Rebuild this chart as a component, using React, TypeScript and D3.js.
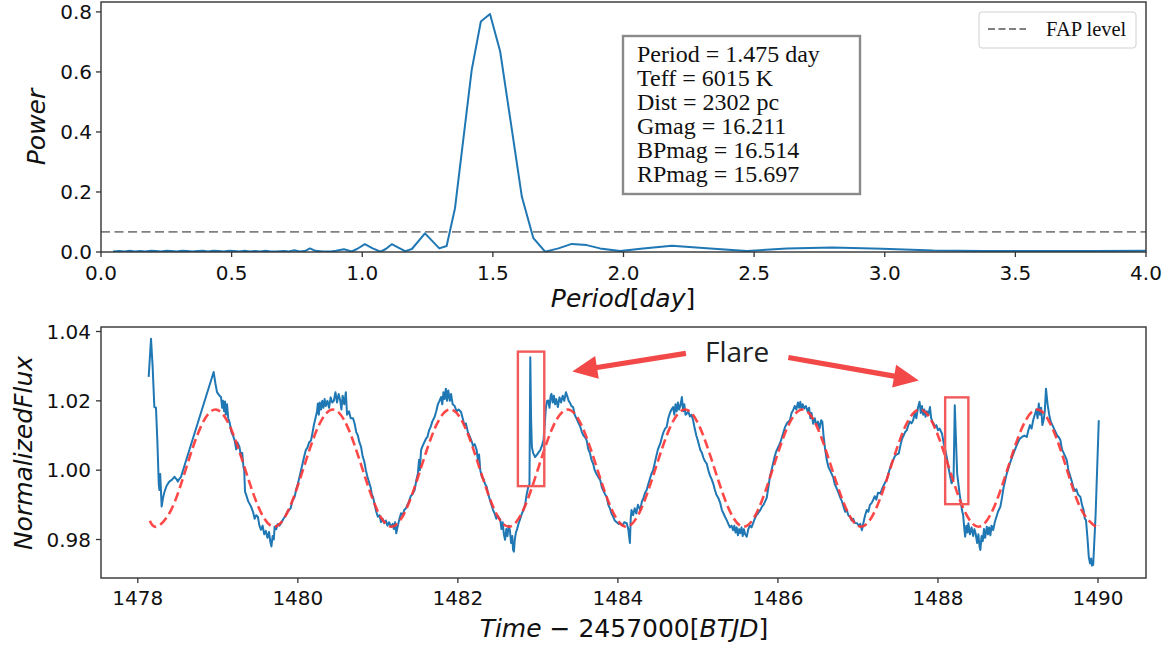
import React from 'react';
import * as d3 from 'd3';

// ---------------- data ----------------
const periodTicks = [0, 0.5, 1.0, 1.5, 2.0, 2.5, 3.0, 3.5, 4.0];
const powerTicks = [0, 0.2, 0.4, 0.6, 0.8];
const timeTicks = [1478, 1480, 1482, 1484, 1486, 1488, 1490];
const fluxTicks = [0.98, 1.0, 1.02, 1.04];

const periodogram: [number, number][] = [
  [0.046, 0.002], [0.07, 0.003], [0.09, 0.002], [0.11, 0.004], [0.13, 0.002], [0.15, 0.003],
  [0.17, 0.002], [0.19, 0.004], [0.21, 0.003], [0.23, 0.002], [0.25, 0.004], [0.27, 0.003],
  [0.29, 0.002], [0.31, 0.004], [0.33, 0.003], [0.35, 0.002], [0.37, 0.003], [0.39, 0.004],
  [0.41, 0.002], [0.43, 0.004], [0.45, 0.003], [0.47, 0.002], [0.49, 0.004], [0.51, 0.003],
  [0.53, 0.002], [0.55, 0.004], [0.57, 0.002], [0.59, 0.003], [0.61, 0.002], [0.63, 0.004],
  [0.65, 0.002], [0.67, 0.002], [0.70, 0.003], [0.72, 0.002], [0.74, 0.006], [0.76, 0.002],
  [0.78, 0.003], [0.80, 0.012], [0.82, 0.004], [0.85, 0.002], [0.88, 0.002], [0.90, 0.004],
  [0.93, 0.009], [0.96, 0.002], [0.98, 0.010], [1.01, 0.026], [1.04, 0.012], [1.07, 0.001],
  [1.09, 0.010], [1.113, 0.026], [1.14, 0.014], [1.164, 0.003], [1.19, 0.010], [1.24, 0.062],
  [1.295, 0.012], [1.323, 0.020], [1.355, 0.146], [1.419, 0.607], [1.454, 0.768], [1.489, 0.793],
  [1.528, 0.668], [1.611, 0.184], [1.655, 0.046], [1.700, 0.001], [1.751, 0.012], [1.802, 0.027],
  [1.859, 0.023], [1.910, 0.012], [1.987, 0.003], [2.075, 0.012], [2.185, 0.021], [2.332, 0.012],
  [2.472, 0.003], [2.625, 0.012], [2.80, 0.015], [2.99, 0.011], [3.186, 0.005], [3.38, 0.003],
  [3.6, 0.003], [3.8, 0.003], [4.0, 0.004],
];
const fapLevel = 0.067;

const lightCurve: [number, number][] = [
  [1478.136, 1.0269], [1478.165, 1.0379], [1478.185, 1.0300], [1478.207, 1.0182], [1478.227, 1.0180],
  [1478.245, 1.0080], [1478.262, 0.9960], [1478.270, 0.9943], [1478.280, 0.9989], [1478.298, 0.9895],
  [1478.315, 0.9920], [1478.330, 0.9935], [1478.360, 0.9955], [1478.394, 0.9967], [1478.425, 0.9972],
  [1478.457, 0.9981], [1478.480, 0.9975], [1478.500, 0.9967], [1478.520, 0.9975], [1478.540, 0.9981],
  [1478.948, 1.0283], [1478.970, 1.0250], [1478.990, 1.0225], [1479.020, 1.0215], [1479.040, 1.0211],
  [1479.055, 1.0180], [1479.065, 1.0200], [1479.078, 1.0170], [1479.090, 1.0198], [1479.100, 1.0160],
  [1479.115, 1.0190], [1479.130, 1.0150], [1479.150, 1.0135], [1479.170, 1.0110], [1479.190, 1.0100],
  [1479.210, 1.0086], [1479.230, 1.0060], [1479.245, 1.0080], [1479.270, 1.0067], [1479.290, 1.0040],
  [1479.305, 1.0050], [1479.320, 1.0010], [1479.330, 1.0000], [1479.340, 0.9938], [1479.360, 0.9925],
  [1479.380, 0.9910], [1479.415, 0.9895], [1479.440, 0.9880], [1479.460, 0.9860], [1479.480, 0.9870],
  [1479.500, 0.9866], [1479.520, 0.9840], [1479.540, 0.9828], [1479.560, 0.9840], [1479.580, 0.9815],
  [1479.600, 0.9825], [1479.620, 0.9805], [1479.640, 0.9822], [1479.655, 0.9795], [1479.670, 0.9780],
  [1479.685, 0.9810], [1479.700, 0.9800], [1479.710, 0.9837], [1479.730, 0.9830], [1479.750, 0.9845],
  [1479.770, 0.9840], [1479.790, 0.9847], [1479.820, 0.9860], [1479.850, 0.9870], [1479.870, 0.9880],
  [1479.890, 0.9885], [1479.910, 0.9890], [1479.930, 0.9910], [1479.960, 0.9923], [1479.980, 0.9945],
  [1480.000, 0.9960], [1480.020, 0.9980], [1480.040, 1.0000], [1480.060, 1.0020], [1480.080, 1.0040],
  [1480.100, 1.0058], [1480.120, 1.0065], [1480.140, 1.0080], [1480.165, 1.0086], [1480.185, 1.0110],
  [1480.200, 1.0130], [1480.220, 1.0150], [1480.240, 1.0170], [1480.250, 1.0192], [1480.262, 1.0160],
  [1480.275, 1.0195], [1480.290, 1.0175], [1480.305, 1.0200], [1480.320, 1.0180], [1480.335, 1.0205],
  [1480.350, 1.0185], [1480.370, 1.0200], [1480.390, 1.0180], [1480.410, 1.0210], [1480.430, 1.0195],
  [1480.450, 1.0200], [1480.470, 1.0225], [1480.490, 1.0195], [1480.510, 1.0220], [1480.530, 1.0200],
  [1480.545, 1.0175], [1480.560, 1.0215], [1480.580, 1.0190], [1480.600, 1.0225], [1480.615, 1.0160],
  [1480.640, 1.0170], [1480.660, 1.0150], [1480.690, 1.0150], [1480.710, 1.0134], [1480.730, 1.0110],
  [1480.750, 1.0100], [1480.770, 1.0080], [1480.790, 1.0067], [1480.810, 1.0040], [1480.830, 1.0025],
  [1480.850, 1.0000], [1480.870, 0.9981], [1480.890, 0.9965], [1480.910, 0.9950], [1480.925, 0.9930],
  [1480.940, 0.9923], [1480.960, 0.9900], [1480.980, 0.9880], [1481.000, 0.9866], [1481.020, 0.9870],
  [1481.040, 0.9850], [1481.060, 0.9860], [1481.080, 0.9847], [1481.100, 0.9855], [1481.120, 0.9840],
  [1481.140, 0.9850], [1481.165, 0.9837], [1481.185, 0.9845], [1481.200, 0.9830], [1481.215, 0.9850],
  [1481.230, 0.9818], [1481.250, 0.9840], [1481.270, 0.9860], [1481.290, 0.9876], [1481.310, 0.9870],
  [1481.330, 0.9885], [1481.350, 0.9890], [1481.370, 0.9900], [1481.390, 0.9910], [1481.410, 0.9925],
  [1481.430, 0.9930], [1481.460, 0.9943], [1481.480, 0.9970], [1481.500, 0.9990], [1481.515, 1.0030],
  [1481.525, 1.0000], [1481.540, 1.0058], [1481.560, 1.0070], [1481.580, 1.0080], [1481.600, 1.0090],
  [1481.620, 1.0096], [1481.640, 1.0115], [1481.660, 1.0125], [1481.680, 1.0140], [1481.710, 1.0154],
  [1481.730, 1.0170], [1481.750, 1.0190], [1481.770, 1.0200], [1481.790, 1.0211], [1481.805, 1.0190],
  [1481.820, 1.0225], [1481.835, 1.0205], [1481.850, 1.0235], [1481.865, 1.0200], [1481.880, 1.0230],
  [1481.900, 1.0200], [1481.915, 1.0220], [1481.935, 1.0190], [1481.960, 1.0185], [1481.985, 1.0170],
  [1482.010, 1.0175], [1482.040, 1.0168], [1482.060, 1.0150], [1482.080, 1.0130], [1482.100, 1.0135],
  [1482.125, 1.0110], [1482.150, 1.0096], [1482.170, 1.0085], [1482.190, 1.0070], [1482.210, 1.0075],
  [1482.235, 1.0058], [1482.250, 1.0030], [1482.265, 1.0045], [1482.280, 1.0000], [1482.300, 0.9981],
  [1482.320, 0.9975], [1482.340, 0.9960], [1482.360, 0.9952], [1482.380, 0.9930], [1482.400, 0.9915],
  [1482.420, 0.9900], [1482.440, 0.9885], [1482.460, 0.9875], [1482.480, 0.9860], [1482.500, 0.9868],
  [1482.530, 0.9856], [1482.545, 0.9830], [1482.560, 0.9850], [1482.575, 0.9815], [1482.590, 0.9799],
  [1482.605, 0.9830], [1482.620, 0.9810], [1482.635, 0.9840], [1482.650, 0.9827], [1482.665, 0.9790],
  [1482.680, 0.9810], [1482.690, 0.9770], [1482.700, 0.9765], [1482.712, 0.9800], [1482.725, 0.9820],
  [1482.740, 0.9830], [1482.760, 0.9847], [1482.780, 0.9860], [1482.800, 0.9875], [1482.820, 0.9885],
  [1482.840, 0.9900], [1482.860, 0.9930], [1482.880, 0.9952], [1482.895, 0.9960], [1482.905, 1.0326],
  [1482.915, 1.0150], [1482.925, 1.0067], [1482.940, 1.0050], [1482.965, 1.0038], [1482.990, 1.0045],
  [1483.010, 1.0052], [1483.030, 1.0058], [1483.050, 1.0070], [1483.070, 1.0086], [1483.085, 1.0130],
  [1483.100, 1.0180], [1483.115, 1.0200], [1483.130, 1.0201], [1483.145, 1.0180], [1483.160, 1.0215],
  [1483.170, 1.0220], [1483.185, 1.0195], [1483.200, 1.0215], [1483.215, 1.0190], [1483.230, 1.0205],
  [1483.250, 1.0182], [1483.270, 1.0210], [1483.290, 1.0195], [1483.310, 1.0215], [1483.330, 1.0200],
  [1483.350, 1.0225], [1483.365, 1.0215], [1483.385, 1.0200], [1483.400, 1.0195], [1483.420, 1.0185],
  [1483.440, 1.0182], [1483.460, 1.0160], [1483.480, 1.0150], [1483.500, 1.0140], [1483.530, 1.0125],
  [1483.550, 1.0110], [1483.570, 1.0100], [1483.590, 1.0095], [1483.610, 1.0086], [1483.630, 1.0060],
  [1483.650, 1.0050], [1483.670, 1.0030], [1483.690, 1.0019], [1483.710, 1.0000], [1483.730, 0.9990],
  [1483.755, 0.9980], [1483.780, 0.9971], [1483.800, 0.9950], [1483.820, 0.9940], [1483.840, 0.9930],
  [1483.860, 0.9923], [1483.880, 0.9900], [1483.900, 0.9890], [1483.920, 0.9875], [1483.940, 0.9866],
  [1483.960, 0.9855], [1483.985, 0.9850], [1484.010, 0.9845], [1484.030, 0.9847], [1484.060, 0.9840],
  [1484.080, 0.9850], [1484.110, 0.9847], [1484.130, 0.9830], [1484.150, 0.9790], [1484.160, 0.9860],
  [1484.170, 0.9885], [1484.190, 0.9870], [1484.210, 0.9890], [1484.230, 0.9875], [1484.250, 0.9900],
  [1484.280, 0.9885], [1484.300, 0.9910], [1484.320, 0.9920], [1484.340, 0.9935], [1484.360, 0.9943],
  [1484.380, 0.9960], [1484.400, 0.9975], [1484.420, 0.9990], [1484.440, 1.0000], [1484.460, 1.0020],
  [1484.480, 1.0040], [1484.500, 1.0060], [1484.530, 1.0077], [1484.550, 1.0095], [1484.570, 1.0110],
  [1484.590, 1.0120], [1484.610, 1.0125], [1484.630, 1.0150], [1484.650, 1.0165], [1484.670, 1.0175],
  [1484.690, 1.0182], [1484.705, 1.0160], [1484.720, 1.0190], [1484.735, 1.0170], [1484.750, 1.0195],
  [1484.765, 1.0175], [1484.780, 1.0185], [1484.800, 1.0211], [1484.815, 1.0170], [1484.830, 1.0190],
  [1484.845, 1.0160], [1484.860, 1.0163], [1484.880, 1.0170], [1484.900, 1.0155], [1484.920, 1.0160],
  [1484.940, 1.0144], [1484.960, 1.0120], [1484.980, 1.0100], [1485.000, 1.0085], [1485.030, 1.0058],
  [1485.050, 1.0050], [1485.070, 1.0035], [1485.090, 1.0025], [1485.110, 1.0019], [1485.130, 1.0000],
  [1485.150, 0.9985], [1485.170, 0.9975], [1485.190, 0.9962], [1485.210, 0.9945], [1485.230, 0.9930],
  [1485.255, 0.9920], [1485.280, 0.9904], [1485.300, 0.9885], [1485.320, 0.9875], [1485.340, 0.9865],
  [1485.360, 0.9856], [1485.380, 0.9845], [1485.400, 0.9835], [1485.420, 0.9840], [1485.440, 0.9827],
  [1485.455, 0.9840], [1485.470, 0.9820], [1485.485, 0.9835], [1485.500, 0.9812], [1485.515, 0.9830],
  [1485.530, 0.9818], [1485.545, 0.9835], [1485.560, 0.9810], [1485.575, 0.9830], [1485.590, 0.9815],
  [1485.610, 0.9808], [1485.630, 0.9830], [1485.650, 0.9840], [1485.670, 0.9835], [1485.690, 0.9847],
  [1485.710, 0.9860], [1485.730, 0.9870], [1485.750, 0.9875], [1485.780, 0.9885], [1485.800, 0.9895],
  [1485.820, 0.9900], [1485.840, 0.9910], [1485.860, 0.9920], [1485.880, 0.9950], [1485.900, 0.9981],
  [1485.920, 1.0000], [1485.940, 1.0020], [1485.960, 1.0040], [1485.980, 1.0055], [1486.000, 1.0065],
  [1486.030, 1.0080], [1486.050, 1.0095], [1486.070, 1.0110], [1486.090, 1.0125], [1486.110, 1.0134],
  [1486.130, 1.0140], [1486.150, 1.0144], [1486.170, 1.0165], [1486.190, 1.0173], [1486.210, 1.0185],
  [1486.230, 1.0175], [1486.250, 1.0195], [1486.265, 1.0180], [1486.280, 1.0197], [1486.295, 1.0175],
  [1486.310, 1.0190], [1486.330, 1.0178], [1486.350, 1.0185], [1486.370, 1.0170], [1486.390, 1.0180],
  [1486.405, 1.0150], [1486.420, 1.0165], [1486.440, 1.0134], [1486.460, 1.0150], [1486.480, 1.0130],
  [1486.500, 1.0140], [1486.520, 1.0120], [1486.540, 1.0144], [1486.555, 1.0140], [1486.570, 1.0100],
  [1486.590, 1.0060], [1486.610, 1.0030], [1486.630, 1.0010], [1486.650, 1.0000], [1486.670, 0.9990],
  [1486.690, 0.9980], [1486.710, 0.9960], [1486.730, 0.9950], [1486.760, 0.9933], [1486.780, 0.9920],
  [1486.800, 0.9910], [1486.820, 0.9895], [1486.840, 0.9880], [1486.860, 0.9885], [1486.880, 0.9870],
  [1486.900, 0.9866], [1486.920, 0.9855], [1486.940, 0.9860], [1486.960, 0.9848], [1486.990, 0.9847],
  [1487.010, 0.9840], [1487.030, 0.9845], [1487.050, 0.9827], [1487.070, 0.9850], [1487.090, 0.9870],
  [1487.110, 0.9885], [1487.130, 0.9880], [1487.150, 0.9900], [1487.170, 0.9905], [1487.190, 0.9914],
  [1487.210, 0.9925], [1487.230, 0.9915], [1487.250, 0.9935], [1487.280, 0.9933], [1487.300, 0.9945],
  [1487.320, 0.9955], [1487.340, 0.9965], [1487.360, 0.9971], [1487.380, 0.9990], [1487.400, 1.0005],
  [1487.420, 1.0020], [1487.440, 1.0029], [1487.460, 1.0040], [1487.480, 1.0045], [1487.510, 1.0048],
  [1487.530, 1.0070], [1487.550, 1.0090], [1487.570, 1.0100], [1487.590, 1.0110], [1487.610, 1.0115],
  [1487.630, 1.0130], [1487.650, 1.0140], [1487.670, 1.0135], [1487.690, 1.0144], [1487.710, 1.0165],
  [1487.730, 1.0150], [1487.750, 1.0180], [1487.770, 1.0197], [1487.785, 1.0165], [1487.800, 1.0185],
  [1487.815, 1.0160], [1487.830, 1.0175], [1487.845, 1.0154], [1487.860, 1.0170], [1487.880, 1.0160],
  [1487.900, 1.0182], [1487.915, 1.0150], [1487.930, 1.0140], [1487.945, 1.0135], [1487.960, 1.0125],
  [1487.980, 1.0130], [1488.000, 1.0115], [1488.020, 1.0120], [1488.050, 1.0106], [1488.070, 1.0080],
  [1488.090, 1.0060], [1488.110, 1.0038], [1488.130, 1.0010], [1488.150, 0.9985], [1488.170, 0.9962],
  [1488.195, 0.9975], [1488.210, 1.0187], [1488.240, 0.9990], [1488.270, 0.9933], [1488.300, 0.9885],
  [1488.315, 0.9870], [1488.330, 0.9830], [1488.340, 0.9808], [1488.355, 0.9840], [1488.370, 0.9820],
  [1488.380, 0.9847], [1488.400, 0.9815], [1488.420, 0.9835], [1488.440, 0.9810], [1488.455, 0.9830],
  [1488.470, 0.9818], [1488.490, 0.9790], [1488.505, 0.9815], [1488.520, 0.9780], [1488.530, 0.9770],
  [1488.545, 0.9810], [1488.560, 0.9795], [1488.575, 0.9830], [1488.590, 0.9805], [1488.610, 0.9837],
  [1488.625, 0.9815], [1488.640, 0.9835], [1488.655, 0.9812], [1488.670, 0.9840], [1488.690, 0.9827],
  [1488.710, 0.9850], [1488.730, 0.9865], [1488.750, 0.9880], [1488.780, 0.9895], [1488.800, 0.9920],
  [1488.820, 0.9950], [1488.840, 0.9970], [1488.860, 0.9990], [1488.880, 1.0005], [1488.900, 1.0020],
  [1488.930, 1.0040], [1488.960, 1.0058], [1488.990, 1.0075], [1489.020, 1.0090], [1489.050, 1.0096],
  [1489.080, 1.0100], [1489.110, 1.0096], [1489.130, 1.0115], [1489.150, 1.0130], [1489.170, 1.0120],
  [1489.190, 1.0144], [1489.210, 1.0160], [1489.230, 1.0175], [1489.245, 1.0150], [1489.260, 1.0192],
  [1489.275, 1.0160], [1489.290, 1.0180], [1489.305, 1.0130], [1489.320, 1.0144], [1489.335, 1.0170],
  [1489.350, 1.0235], [1489.370, 1.0190], [1489.390, 1.0160], [1489.410, 1.0140], [1489.440, 1.0125],
  [1489.460, 1.0115], [1489.490, 1.0100], [1489.510, 1.0095], [1489.530, 1.0087], [1489.550, 1.0060],
  [1489.570, 1.0050], [1489.590, 1.0040], [1489.610, 1.0029], [1489.630, 1.0000], [1489.650, 0.9985],
  [1489.670, 0.9970], [1489.690, 0.9952], [1489.710, 0.9940], [1489.730, 0.9945], [1489.750, 0.9930],
  [1489.780, 0.9923], [1489.800, 0.9900], [1489.820, 0.9885], [1489.835, 0.9860], [1489.850, 0.9856],
  [1489.870, 0.9800], [1489.885, 0.9750], [1489.900, 0.9731], [1489.915, 0.9745], [1489.925, 0.9725],
  [1489.940, 0.9727], [1489.970, 0.9870], [1490.010, 1.0144],
];

const fitTime = [
  1478.150, 1478.237, 1478.420, 1478.604, 1478.787, 1478.970, 1479.154, 1479.337, 1479.521,
  1479.704, 1479.887, 1480.071, 1480.254, 1480.438, 1480.621, 1480.804, 1480.988,
  1481.171, 1481.354, 1481.538, 1481.721, 1481.905, 1482.088, 1482.271, 1482.455,
  1482.638, 1482.821, 1483.005, 1483.188, 1483.372, 1483.555, 1483.738, 1483.922,
  1484.105, 1484.288, 1484.472, 1484.655, 1484.839, 1485.022, 1485.205, 1485.389,
  1485.572, 1485.755, 1485.939, 1486.122, 1486.306, 1486.489, 1486.672, 1486.856,
  1487.039, 1487.222, 1487.406, 1487.589, 1487.773, 1487.956, 1488.139, 1488.323,
  1488.506, 1488.689, 1488.873, 1489.056, 1489.240, 1489.423, 1489.606, 1489.790,
  1489.973, 1490.010,
];
const fitFlux = [
  0.9854, 0.9837, 0.9887, 1.0006, 1.0125, 1.0175, 1.0125, 1.0006, 0.9887,
  0.9837, 0.9887, 1.0006, 1.0125, 1.0175, 1.0125, 1.0006, 0.9887,
  0.9837, 0.9887, 1.0006, 1.0125, 1.0175, 1.0125, 1.0006, 0.9887,
  0.9837, 0.9887, 1.0006, 1.0125, 1.0175, 1.0125, 1.0006, 0.9887,
  0.9837, 0.9887, 1.0006, 1.0125, 1.0175, 1.0125, 1.0006, 0.9887,
  0.9837, 0.9887, 1.0006, 1.0125, 1.0175, 1.0125, 1.0006, 0.9887,
  0.9837, 0.9887, 1.0006, 1.0125, 1.0175, 1.0125, 1.0006, 0.9887,
  0.9837, 0.9887, 1.0006, 1.0125, 1.0175, 1.0125, 1.0006, 0.9887,
  0.9837, 0.9840,
];

const infoLines = [
  'Period = 1.475 day',
  'Teff = 6015 K',
  'Dist = 2302 pc',
  'Gmag = 16.211',
  'BPmag = 16.514',
  'RPmag = 15.697',
];

const flareBoxes = [
  { t0: 1482.75, t1: 1483.08, f0: 0.9954, f1: 1.0342 },
  { t0: 1488.09, t1: 1488.38, f0: 0.9902, f1: 1.0210 },
];
const flareArrows = [
  { t0: 1484.85, f0: 1.0337, t1: 1483.43, f1: 1.0285 },
  { t0: 1486.13, f0: 1.0325, t1: 1487.76, f1: 1.0259 },
];
const flareLabel = { text: 'Flare', t: 1485.49, f: 1.0311 };

// ---------------- layout ----------------
const W = 1170;
const H = 647;
const top = { l: 101, r: 1146, t: 2, b: 252 };
const bot = { l: 101, r: 1146, t: 327, b: 578 };

const xP = d3.scaleLinear().domain([0, 4]).range([top.l, top.r]);
const yP = d3.scaleLinear().domain([0, 0.833]).range([top.b, top.t]);
const xT = d3.scaleLinear().domain([1477.54, 1490.6]).range([bot.l, bot.r]);
const yF = d3.scaleLinear().domain([0.9689, 1.0413]).range([bot.b, bot.t]);

const SANS = "'DejaVu Sans', sans-serif";
const SERIF = "'Liberation Serif', 'Times New Roman', serif";
const BLUE = '#1f77b4';
const RED = '#ff3535';
const ANN = '#f24848';

function arrowPath(x0: number, y0: number, x1: number, y1: number) {
  const dx = x1 - x0, dy = y1 - y0;
  const len = Math.hypot(dx, dy);
  const ux = dx / len, uy = dy / len;
  const px = -uy, py = ux;
  const hl = 25, hw = 11.5, sw = 2.6;
  const bx = x1 - ux * hl, by = y1 - uy * hl;
  const pts = [
    [x0 + px * sw, y0 + py * sw],
    [bx + px * sw, by + py * sw],
    [bx + px * hw, by + py * hw],
    [x1, y1],
    [bx - px * hw, by - py * hw],
    [bx - px * sw, by - py * sw],
    [x0 - px * sw, y0 - py * sw],
  ];
  return 'M' + pts.map((p) => p[0].toFixed(2) + ',' + p[1].toFixed(2)).join('L') + 'Z';
}

export default function App() {
  const pLine = d3.line<[number, number]>().x((d) => xP(d[0])).y((d) => yP(d[1]));
  const lcLine = d3.line<[number, number]>().x((d) => xT(d[0])).y((d) => yF(d[1]));
  const fitLine = d3
    .line<number>()
    .x((d) => xT(d))
    .y((_, i) => yF(fitFlux[i]))
    .curve(d3.curveNatural);

  const fmt1 = d3.format('.1f');
  const fmt2 = d3.format('.2f');

  return (
    <svg
      width={W}
      height={H}
      viewBox={`0 0 ${W} ${H}`}
      style={{ position: 'absolute', left: 0, top: 0, background: '#fff' }}
    >
      <defs>
        <clipPath id="clipTop">
          <rect x={top.l} y={top.t} width={top.r - top.l} height={top.b - top.t} />
        </clipPath>
        <clipPath id="clipBot">
          <rect x={bot.l} y={bot.t} width={bot.r - bot.l} height={bot.b - bot.t} />
        </clipPath>
      </defs>
      <rect x={0} y={0} width={W} height={H} fill="#fff" />

      {/* ===== TOP PANEL ===== */}
      <g clipPath="url(#clipTop)">
        <line
          x1={top.l}
          x2={top.r}
          y1={yP(fapLevel)}
          y2={yP(fapLevel)}
          stroke="#808080"
          strokeWidth={1.8}
          strokeDasharray="9,4.5"
        />
        <path d={pLine(periodogram) || ''} fill="none" stroke={BLUE} strokeWidth={2} strokeLinejoin="round" />
      </g>
      <rect x={top.l} y={top.t} width={top.r - top.l} height={top.b - top.t} fill="none" stroke="#333" strokeWidth={1.4} />
      {periodTicks.map((t) => (
        <g key={'pt' + t}>
          <line x1={xP(t)} x2={xP(t)} y1={top.b} y2={top.b + 5} stroke="#333" strokeWidth={1.3} />
          <text x={xP(t)} y={280} textAnchor="middle" fontFamily={SANS} fontSize={20} fill="#111">
            {fmt1(t)}
          </text>
        </g>
      ))}
      {powerTicks.map((t) => (
        <g key={'pw' + t}>
          <line x1={top.l - 5} x2={top.l} y1={yP(t)} y2={yP(t)} stroke="#333" strokeWidth={1.3} />
          <text x={92} y={yP(t) + 7} textAnchor="end" fontFamily={SANS} fontSize={20} fill="#111">
            {fmt1(t)}
          </text>
        </g>
      ))}
      <text
        transform={`translate(45,127) rotate(-90)`}
        textAnchor="middle"
        fontFamily={SANS}
        fontStyle="italic"
        fontSize={25}
        fill="#111"
      >
        Power
      </text>
      <text x={623} y={307} textAnchor="middle" fontFamily={SANS} fontSize={25} fill="#111">
        <tspan fontStyle="italic">Period</tspan>
        <tspan>[</tspan>
        <tspan fontStyle="italic">day</tspan>
        <tspan>]</tspan>
      </text>

      {/* info box */}
      <rect x={623} y={36} width={237} height={158} fill="#fff" stroke="#8a8a8a" strokeWidth={2.4} />
      {infoLines.map((s, i) => (
        <text key={s} x={637} y={62 + i * 24} fontFamily={SERIF} fontSize={24} fill="#111">
          {s}
        </text>
      ))}

      {/* legend */}
      <rect x={979} y={12} width={157} height={36} rx={3} fill="#fff" fillOpacity={0.8} stroke="#d0d0d0" strokeWidth={1} />
      <line x1={988} x2={1026} y1={29} y2={29} stroke="#808080" strokeWidth={1.8} strokeDasharray="7,3.5" />
      <text x={1046} y={36} fontFamily={SERIF} fontSize={20.5} fill="#111">
        FAP level
      </text>

      {/* ===== BOTTOM PANEL ===== */}
      <g clipPath="url(#clipBot)">
        <path d={lcLine(lightCurve) || ''} fill="none" stroke={BLUE} strokeWidth={2} strokeLinejoin="round" />
        <path
          d={fitLine(fitTime) || ''}
          fill="none"
          stroke={RED}
          strokeOpacity={0.9}
          strokeWidth={2.6}
          strokeDasharray="9.5,4.5"
        />
      </g>
      <rect x={bot.l} y={bot.t} width={bot.r - bot.l} height={bot.b - bot.t} fill="none" stroke="#333" strokeWidth={1.4} />
      {timeTicks.map((t) => (
        <g key={'tt' + t}>
          <line x1={xT(t)} x2={xT(t)} y1={bot.b} y2={bot.b + 5} stroke="#333" strokeWidth={1.3} />
          <text x={xT(t)} y={605} textAnchor="middle" fontFamily={SANS} fontSize={20} fill="#111">
            {t}
          </text>
        </g>
      ))}
      {fluxTicks.map((t) => (
        <g key={'ft' + t}>
          <line x1={bot.l - 5} x2={bot.l} y1={yF(t)} y2={yF(t)} stroke="#333" strokeWidth={1.3} />
          <text x={91} y={yF(t) + 7} textAnchor="end" fontFamily={SANS} fontSize={20} fill="#111">
            {fmt2(t)}
          </text>
        </g>
      ))}
      <text
        transform={`translate(32,453) rotate(-90)`}
        textAnchor="middle"
        fontFamily={SANS}
        fontStyle="italic"
        fontSize={25}
        fill="#111"
      >
        NormalizedFlux
      </text>
      <text x={624} y={637} textAnchor="middle" fontFamily={SANS} fontSize={25} fill="#111">
        <tspan fontStyle="italic">Time</tspan>
        <tspan> − 2457000[</tspan>
        <tspan fontStyle="italic">BTJD</tspan>
        <tspan>]</tspan>
      </text>

      {/* flare annotations */}
      {flareBoxes.map((b, i) => (
        <rect
          key={'fb' + i}
          x={xT(b.t0)}
          y={yF(b.f1)}
          width={xT(b.t1) - xT(b.t0)}
          height={yF(b.f0) - yF(b.f1)}
          fill="none"
          stroke="#f25a5a"
          strokeWidth={2.4}
        />
      ))}
      {flareArrows.map((a, i) => (
        <path key={'fa' + i} d={arrowPath(xT(a.t0), yF(a.f0), xT(a.t1), yF(a.f1))} fill={ANN} />
      ))}
      <text
        x={xT(flareLabel.t)}
        y={yF(flareLabel.f)}
        textAnchor="middle"
        fontFamily="'Open Sans', 'Noto Sans', sans-serif"
        fontSize={28}
        fill="#222"
      >
        {flareLabel.text}
      </text>
    </svg>
  );
}
